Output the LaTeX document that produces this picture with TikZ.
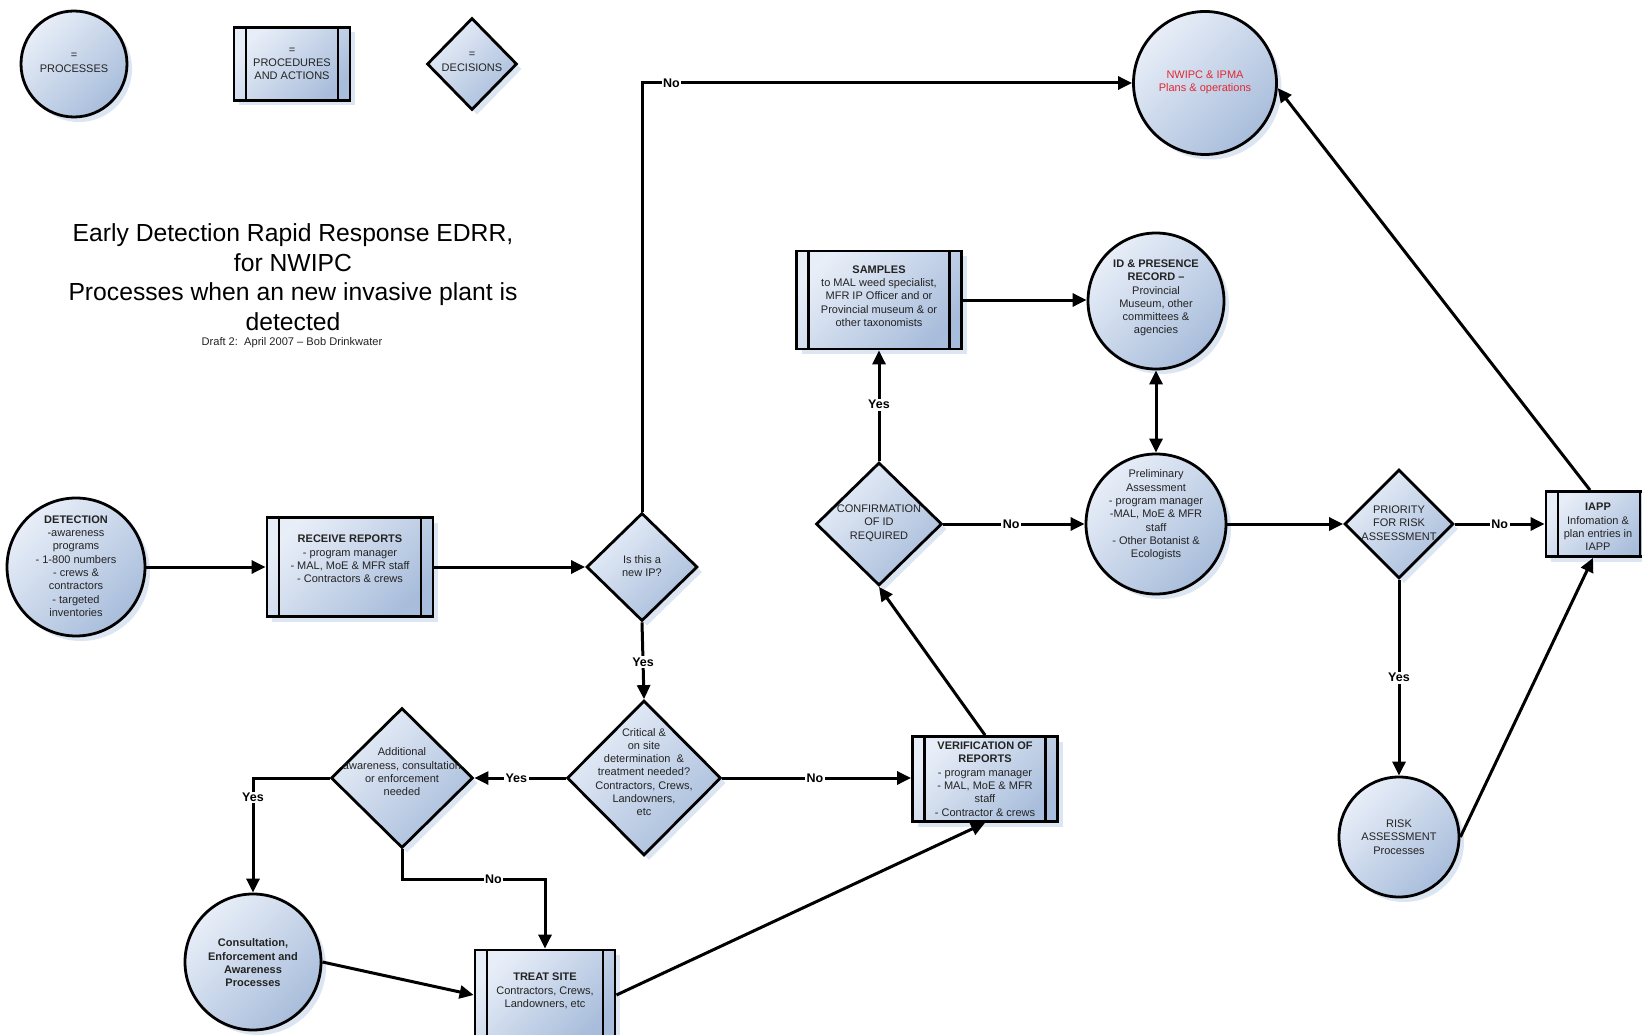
\documentclass[tikz,border=0pt]{standalone}
\usepackage{fontspec}
\setmainfont{Liberation Sans}
\usetikzlibrary{shapes.geometric, arrows.meta, shadows}
\definecolor{blueL}{RGB}{232,238,248}
\definecolor{blueD}{RGB}{168,189,219}
\definecolor{shadowc}{RGB}{220,229,242}
\definecolor{textc}{RGB}{35,35,35}
\definecolor{redt}{RGB}{225,40,50}
\tikzset{
  shp/.style={draw=black, line width=2.8pt, top color=blueL, bottom color=blueD, shading angle=45,
     drop shadow={shadow xshift=5pt, shadow yshift=-5pt, fill=shadowc, draw=none, opacity=1}},
  proc/.style={shp, circle, inner sep=0pt, minimum size=#1},
  dec/.style 2 args={shp, diamond, inner sep=0pt, minimum width=#1, minimum height=#2},
  pbox/.style 2 args={shp, rectangle, inner sep=0pt, minimum width=#1, minimum height=#2,
     path picture={
       \draw[line width=2.8pt] ([xshift=12pt]path picture bounding box.north west) -- ([xshift=12pt]path picture bounding box.south west);
       \draw[line width=2.8pt] ([xshift=-12pt]path picture bounding box.north east) -- ([xshift=-12pt]path picture bounding box.south east);}},
  tx/.style={align=center, inner sep=0pt, text=textc, font=\fontsize{11}{13.3}\selectfont},
  txb/.style={tx, font=\bfseries\fontsize{11}{13.3}\selectfont},
  lbl/.style={fill=white, inner sep=1.5pt, text=black, font=\bfseries\fontsize{12.5}{14}\selectfont},
  arr/.style={line width=3pt, -{Triangle[length=14pt,width=13pt]}},
  darr/.style={line width=3pt, {Triangle[length=14pt,width=13pt]}-{Triangle[length=14pt,width=13pt]}},
}
\begin{document}
\begin{tikzpicture}[x=1pt, y=-1pt]
\useasboundingbox (0,0) rectangle (1642,1035);
\fill[white] (0,0) rectangle (1642,1035);
\clip (0,0) rectangle (1642,1035);

% ---------- legend ----------
\node[proc=106pt] (lgp) at (74,64) {};
\node[tx] (lgp-t) at (74,63) {=\\PROCESSES};
\node[pbox={116pt}{73pt}] (lga) at (292,64) {};
\node[tx] (lga-t) at (292,64) {=\\PROCEDURES\\AND ACTIONS};
\node[dec={90pt}{92pt}] (lgd) at (472,64) {};
\node[tx] (lgd-t) at (472,62) {=\\DECISIONS};

% ---------- title ----------
\node[align=center, inner sep=0pt, font=\fontsize{24.7}{29.5}\selectfont] (title) at (293,277)
  {Early Detection Rapid Response EDRR,\\for NWIPC\\Processes when an new invasive plant is\\detected};
\node[inner sep=0pt, text=textc, font=\fontsize{11.1}{13}\selectfont] (draft) at (292,343)
  {Draft 2:~~April 2007 – Bob Drinkwater};

% ---------- shapes ----------
\node[proc=138pt] (det) at (76,567) {};
\node[pbox={166pt}{99pt}] (recv) at (350,567) {};
\node[dec={111pt}{108pt}] (isnew) at (642,567) {};
\node[dec={154pt}{155pt}] (crit) at (644,778) {};
\node[dec={142pt}{140pt}] (addl) at (402,778) {};
\node[proc=136pt] (consult) at (253,962) {};
\node[pbox={140pt}{90pt}] (treat) at (545,995) {};
\node[pbox={145pt}{85pt}] (verif) at (985,779) {};
\node[dec={126pt}{123pt}] (confirm) at (879,524) {};
\node[pbox={165pt}{98pt}] (samples) at (879,300) {};
\node[proc=136pt] (idp) at (1156,301) {};
\node[proc=140pt] (prelim) at (1156,524) {};
\node[dec={109pt}{109pt}] (prio) at (1399,524) {};
\node[pbox={106pt}{65pt}] (iapp) at (1599,524) {};
\node[proc=143pt] (nwipc) at (1205,83) {};
\node[proc=120pt] (risk) at (1399,837) {};

% ---------- texts ----------
\node[tx] (det-t) at (76,566) {\textbf{DETECTION}\\-awareness\\programs\\- 1-800 numbers\\- crews \&\\contractors\\- targeted\\inventories};
\node[tx] (recv-t) at (350,559) {\textbf{RECEIVE REPORTS}\\- program manager\\- MAL, MoE \& MFR staff\\- Contractors \& crews};
\node[tx] (isnew-t) at (642,566) {Is this a\\new IP?};
\node[tx] (crit-t) at (644,772) {Critical \&\\on site\\determination~~\&\\treatment needed?\\Contractors, Crews,\\Landowners,\\etc};
\begin{scope}
  \clip (addl.north) -- (addl.east) -- (addl.south) -- (addl.west) -- cycle;
  \node[tx] (addl-t) at (402,772) {Additional\\awareness, consultation\\or enforcement\\needed};
\end{scope}
\node[txb] (consult-t) at (253,963) {Consultation,\\Enforcement and\\Awareness\\Processes};
\node[tx] (treat-t) at (545,991) {\textbf{TREAT SITE}\\Contractors, Crews,\\Landowners, etc};
\node[tx] (verif-t) at (985,779) {\textbf{VERIFICATION OF}\\\textbf{REPORTS}\\- program manager\\- MAL, MoE \& MFR\\staff\\- Contractor \& crews};
\begin{scope}
  \clip (confirm.north) -- (confirm.east) -- (confirm.south) -- (confirm.west) -- cycle;
  \node[tx] (confirm-t) at (879,523) {CONFIRMATION\\OF ID\\REQUIRED};
\end{scope}
\node[tx] (samples-t) at (879,296) {\textbf{SAMPLES}\\to MAL weed specialist,\\MFR IP Officer and or\\Provincial museum \& or\\other taxonomists};
\node[tx] (idp-t) at (1156,298) {\textbf{ID \& PRESENCE}\\\textbf{RECORD –}\\Provincial\\Museum, other\\committees \&\\agencies};
\node[tx] (prelim-t) at (1156,515) {Preliminary\\Assessment\\- program manager\\-MAL, MoE \& MFR\\staff\\- Other Botanist \&\\Ecologists};
\begin{scope}
  \clip (prio.north) -- (prio.east) -- (prio.south) -- (prio.west) -- cycle;
  \node[tx] (prio-t) at (1399,523) {PRIORITY\\FOR RISK\\ASSESSMENT};
\end{scope}
\node[tx] (iapp-t) at (1598,527) {\textbf{IAPP}\\Infomation \&\\plan entries in\\IAPP};
\node[tx, text=redt] (nwipc-t) at (1205,82) {NWIPC \& IPMA\\Plans \& operations};
\node[tx] (risk-t) at (1399,837) {RISK\\ASSESSMENT\\Processes};

% ---------- connectors ----------
\draw[arr] (det.east) -- (recv.west);
\draw[arr] (recv.east) -- (isnew.west);
\draw[arr] (isnew.north) -- (isnew.north |- nwipc.west) -- node[lbl, pos=0.06] (l-no1) {No} (nwipc.west);
\draw[arr] (isnew.south) -- node[lbl, pos=0.52] (l-yes1) {Yes} (crit.north);
\draw[arr] (crit.west) -- node[lbl, pos=0.54] (l-yes2) {Yes} (addl.east);
\draw[arr] (crit.east) -- node[lbl, pos=0.49] (l-no2) {No} (crit.east -| verif.west);
\draw[arr] (addl.west) -- (consult.north |- addl.west) -- node[lbl, pos=0.17] (l-yes3) {Yes} (consult.north);
\coordinate (nobend) at (0,879);
\draw[arr] (addl.south) -- (addl.south |- nobend) -- node[lbl, pos=0.64] (l-no3) {No} (treat.north |- nobend) -- (treat.north);
\draw[arr] (consult.east) -- (treat.west);
\draw[arr] (treat.east) -- (verif.south);
\draw[arr] (verif.north) -- (confirm.south);
\draw[arr] (confirm.north) -- node[lbl, pos=0.51] (l-yes4) {Yes} (samples.south);
\draw[arr] (confirm.east) -- node[lbl, pos=0.48] (l-no4) {No} (prelim.west);
\draw[arr] (samples.east) -- (samples.east -| idp.west);
\draw[darr] (idp.south) -- (prelim.north);
\draw[arr] (prelim.east) -- (prio.west);
\draw[arr] (prio.east) -- node[lbl, pos=0.5] (l-no5) {No} (iapp.west);
\draw[arr] (prio.south) -- node[lbl, pos=0.5] (l-yes5) {Yes} (risk.north);
\draw[arr] (risk.east) -- ([xshift=-6pt]iapp.south);
\draw[arr] ([xshift=-9pt]iapp.north) -- (nwipc.-4);
\end{tikzpicture}
\end{document}
